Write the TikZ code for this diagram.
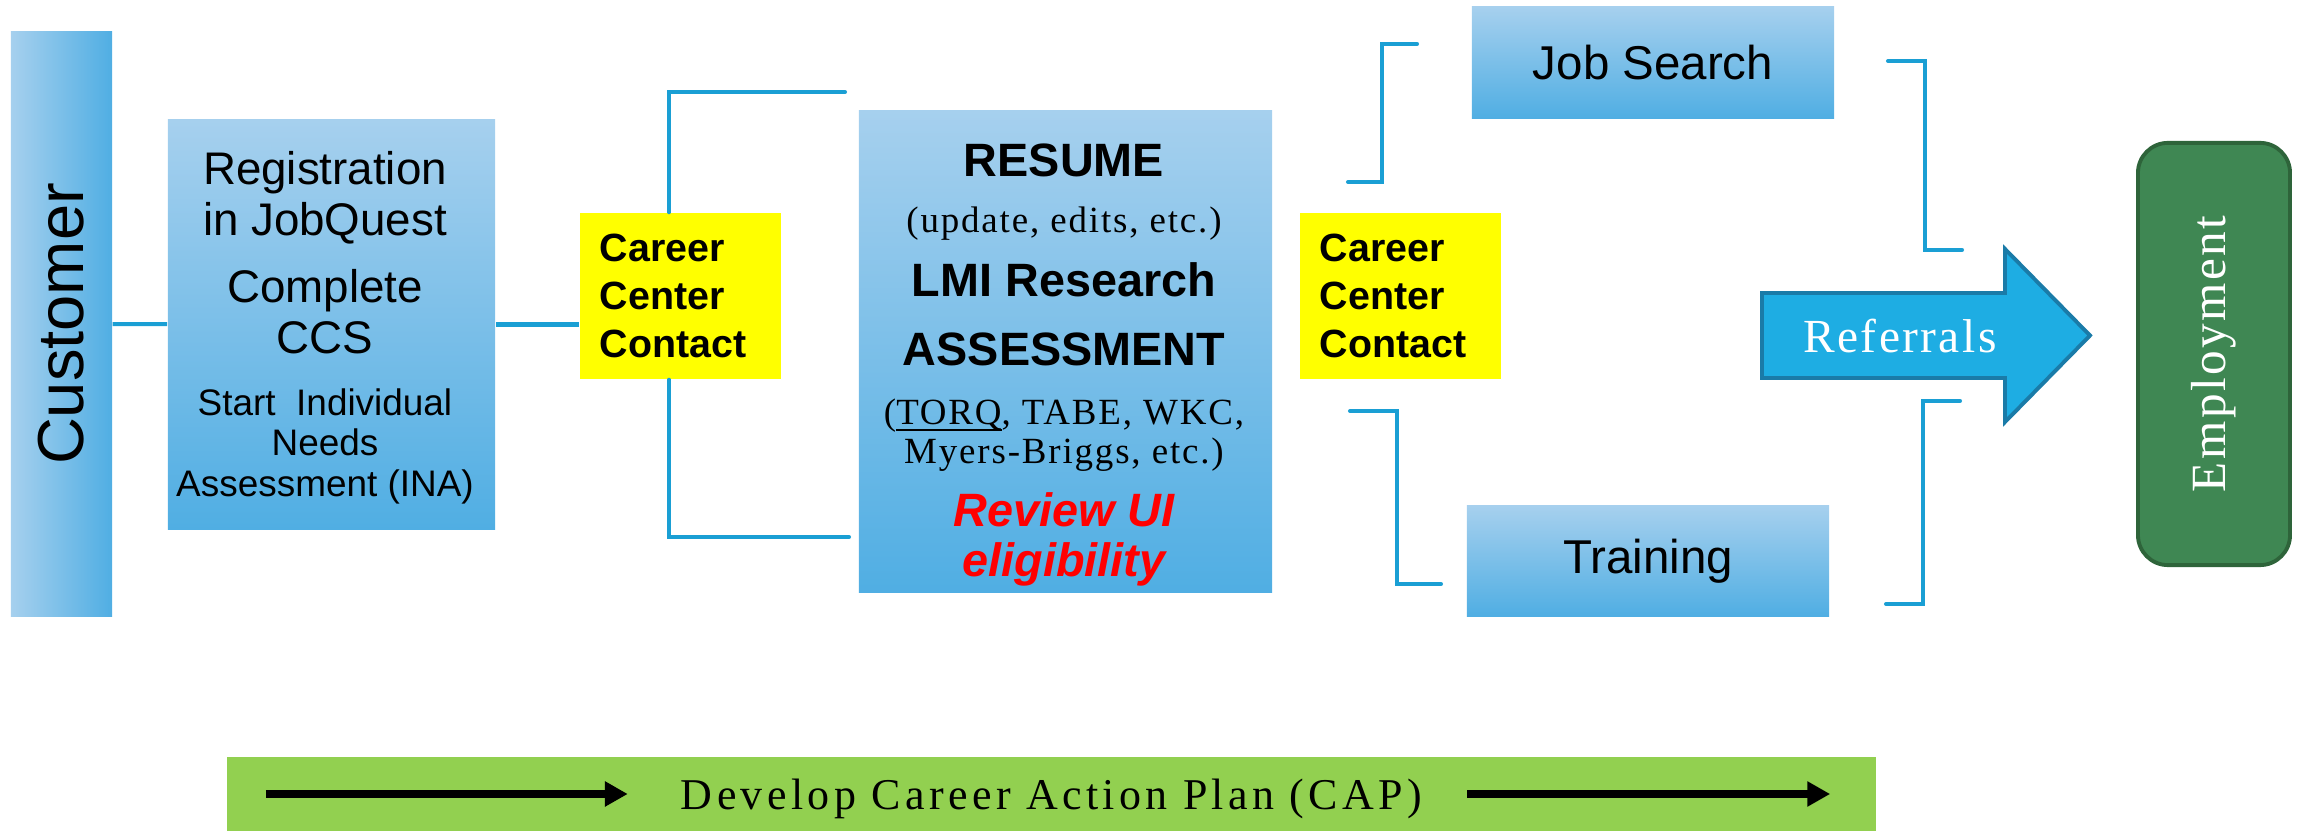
\documentclass[tikz,border=0pt]{standalone}
\usepackage{fontspec}
\setmainfont{Liberation Sans}
\newfontfamily\spacedserif[LetterSpace=5]{Liberation Serif}
\newfontfamily\wideserif[LetterSpace=10]{Liberation Serif}
\usepackage{tikz}
\usetikzlibrary{calc, arrows.meta, positioning}

\definecolor{boxtop}{RGB}{166,208,238}
\definecolor{boxbottom}{RGB}{80,174,227}
\definecolor{linkblue}{RGB}{26,159,212}
\definecolor{ccyellow}{RGB}{255,255,0}
\definecolor{refblue}{RGB}{30,173,227}
\definecolor{refedge}{RGB}{26,123,168}
\definecolor{empgreen}{RGB}{63,135,83}
\definecolor{empedge}{RGB}{46,100,58}
\definecolor{capgreen}{RGB}{146,208,80}
\definecolor{reviewred}{RGB}{255,0,0}

\newcommand{\smallserif}{\mdseries\upshape\spacedserif\fontsize{10.5}{12.5}\selectfont}

\begin{document}
\begin{tikzpicture}[
    x=0.01cm, y=-0.01cm,
    font=\fontsize{13}{14.5}\selectfont,
    bluebox/.style={
        rectangle, inner sep=0pt, top color=boxtop, bottom color=boxbottom,
        align=center
    },
    sidebar/.style={
        rectangle, inner sep=0pt, left color=boxtop, right color=boxbottom
    },
    ccbox/.style={
        rectangle, fill=ccyellow, align=left, text width=1.61cm,
        inner xsep=0.2cm, inner ysep=0pt, minimum height=1.66cm,
        font=\fontsize{11.2}{13.7}\selectfont\bfseries
    },
    boxtext/.style={
        anchor=north, inner sep=0pt, align=center
    },
    link/.style={
        draw=linkblue, line width=1.15pt, line cap=round, line join=miter
    },
    referral/.style={
        fill=refblue, draw=refedge, line width=1.1pt, line join=miter
    },
    goalbox/.style={
        rectangle, rounded corners=0.3cm, fill=empgreen, draw=empedge,
        line width=1.1pt, minimum width=1.52cm, minimum height=4.22cm, inner sep=0pt
    },
    planbar/.style={
        rectangle, fill=capgreen, minimum width=16.49cm, minimum height=0.74cm,
        inner sep=0pt, text depth=0pt
    },
    planarrow/.style={
        -{Triangle[length=6.5pt, width=6.8pt]}, line width=2.2pt, draw=black
    }
]
    \useasboundingbox (0,0) rectangle (2305,834);

    % =========================================================================
    % CUSTOMER AND REGISTRATION (LEFT)
    % =========================================================================
    \node [sidebar, minimum width=1.01cm, minimum height=5.84cm] (customer) at (61.5,324)
        {\rotatebox{90}{\fontsize{18.5}{20}\selectfont Customer}};

    \node [bluebox, minimum width=3.27cm, minimum height=4.09cm] (reg) at (331.5,324.5) {};
    \node [boxtext] (reg_text) at (325,151)
        {Registration\\in JobQuest\\[4.6pt]Complete\\CCS\\[2.9pt]{\fontsize{10.5}{12}\selectfont Start\ \ Individual}\\[-3.1pt]{\fontsize{10.5}{12}\selectfont Needs}\\[-2.8pt]{\fontsize{10.5}{12}\selectfont Assessment (INA)}};

    \node [ccbox] (cc1) at (680.5,296) {Career\\Center\\Contact};

    % =========================================================================
    % RESUME / ASSESSMENT (MIDDLE)
    % =========================================================================
    \node [bluebox, minimum width=4.13cm, minimum height=4.81cm] (resume) at (1065.5,351.5) {};
    \node [boxtext, font=\fontsize{13.3}{14}\selectfont\bfseries] (resume_text) at (1064,143)
        {RESUME\\[2.1pt]{\smallserif (update, edits, etc.)}\\[4.2pt]LMI Research\\[5.5pt]ASSESSMENT\\[2.9pt]{\smallserif (\underline{\smash{TORQ}}, TABE, WKC,}\\[-3pt]{\smallserif Myers-Briggs, etc.)}\\[3.9pt]{\color{reviewred}\itshape Review UI}\\[0.2pt]{\color{reviewred}\itshape eligibility}};

    \node [ccbox] (cc2) at (1400.5,296) {Career\\Center\\Contact};

    % =========================================================================
    % JOB SEARCH / TRAINING / EMPLOYMENT (RIGHT)
    % =========================================================================
    \node [bluebox, minimum width=3.62cm, minimum height=1.11cm, font=\fontsize{13.5}{15}\selectfont] (jobsearch) at (1653,62.5) {Job Search};
    \node [bluebox, minimum width=3.62cm, minimum height=1.10cm, font=\fontsize{13.5}{15}\selectfont] (training) at (1648,561) {Training};

    \draw [referral] (1762,293) -- (2005,293) -- (2005,249) -- (2090,335.5)
        -- (2005,422) -- (2005,378) -- (1762,378) -- cycle;
    \node [font=\spacedserif\fontsize{13.5}{15}\selectfont, text=white, text depth=0pt] (referral_text) at (1900,336) {Referrals};

    \node [goalbox] (employment) at (2214,354)
        {\rotatebox{90}{\spacedserif\fontsize{14}{16}\selectfont\color{white}Employment}};

    % =========================================================================
    % CAREER ACTION PLAN BAR (BOTTOM)
    % =========================================================================
    \node [planbar, font=\wideserif\fontsize{12.5}{14}\selectfont] (plan) at (1051.5,794) {Develop Career Action Plan (CAP)};
    \draw [planarrow] ([xshift=0.4cm]plan.west) -- ([xshift=-4.235cm]plan.center);
    \draw [planarrow] ([xshift=4.155cm]plan.center) -- ([xshift=-0.47cm]plan.east);

    % =========================================================================
    % CONNECTORS
    % =========================================================================
    % Customer to Registration, Registration to Career Center
    \draw [link, line cap=butt] (customer) -- (reg);
    \draw [link, line cap=butt] (reg.east) -- (reg.east -| cc1.west);

    % Career Center bracket toward Resume box
    \coordinate (resume_in_top) at (845,92);
    \coordinate (resume_in_bot) at (849,537);
    \draw [link] ([xshift=-0.115cm]cc1.north) |- (resume_in_top);
    \draw [link] ([xshift=-0.115cm]cc1.south) |- (resume_in_bot);

    % Career Center brackets toward Job Search and Training
    \coordinate (jobs_in_low) at (1348,182);
    \coordinate (jobs_in_high) at (1417,44);
    \draw [link] (jobs_in_low) -- ++(34,0) |- (jobs_in_high);
    \coordinate (train_in_high) at (1350,411);
    \coordinate (train_in_low) at (1441,584);
    \draw [link] (train_in_high) -- ++(47,0) |- (train_in_low);

    % Job Search and Training brackets toward Referrals
    \coordinate (jobs_out_high) at (1888,61);
    \coordinate (jobs_out_low) at (1962,250);
    \draw [link] (jobs_out_high) -- ++(37,0) |- (jobs_out_low);
    \coordinate (train_out_high) at (1960,401);
    \coordinate (train_out_low) at (1886,604);
    \draw [link] (train_out_high) -- ++(-37,0) |- (train_out_low);

\end{tikzpicture}
\end{document}
